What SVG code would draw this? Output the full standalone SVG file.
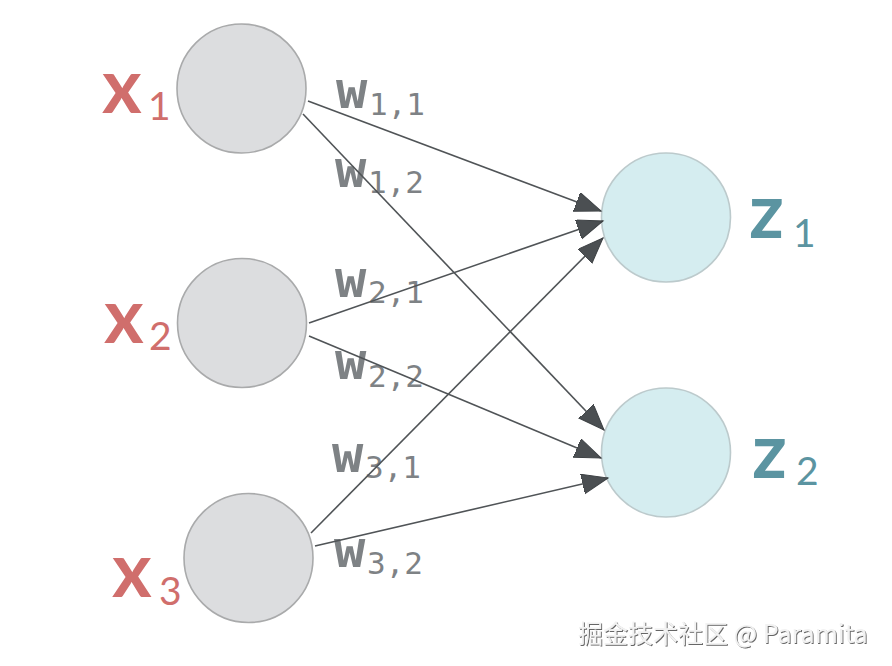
<svg xmlns="http://www.w3.org/2000/svg" width="892" height="666" viewBox="0 0 892 666">
<defs>
<style>
.xn{fill:#dcdddf;stroke:#a9aaab;stroke-width:1.6}
.zn{fill:#d5edf0;stroke:#bccacc;stroke-width:1.6}
.xl{font-family:Lato,"Liberation Sans",sans-serif;fill:#d06e6c}
.zl{font-family:Lato,"Liberation Sans",sans-serif;fill:#5b94a1}
.big{font-size:76px;font-weight:700}
.sub{font-size:39px;font-weight:400}
.wl{font-family:"DejaVu Sans Mono",monospace;fill:#7e8285}
.wb{font-size:52px;font-weight:700}
.ws{font-size:31px;font-weight:400}
.edge{stroke:#505457;stroke-width:1.6;fill:none;marker-end:url(#arr)}
.wm{font-family:"Noto Sans CJK SC","Noto Sans",sans-serif;font-size:25px;fill:#f2f2f2;filter:url(#sh)}
</style>
<marker id="arr" markerUnits="userSpaceOnUse" markerWidth="28" markerHeight="22" refX="26" refY="10" orient="auto">
<path d="M0,0 L26,10 L0,20 Z" fill="#4b4f52" stroke="#3e4245" stroke-width="1"/>
</marker>
<filter id="sh" x="-5%" y="-30%" width="110%" height="160%">
<feDropShadow dx="1" dy="1" stdDeviation="0.6" flood-color="#555" flood-opacity="0.9"/>
</filter>
</defs>
<rect width="892" height="666" fill="#ffffff"/>
<g id="x1">
<circle class="xn" cx="241.5" cy="88.5" r="64.5"/>
<text class="xl"><tspan class="big" x="102" y="113">x</tspan><tspan class="sub" x="148" y="120">1</tspan></text>
</g>
<g id="x2">
<circle class="xn" cx="242" cy="323" r="64.5"/>
<text class="xl"><tspan class="big" x="104" y="343">x</tspan><tspan class="sub" x="149" y="350">2</tspan></text>
</g>
<g id="x3">
<circle class="xn" cx="248.5" cy="558" r="64.5"/>
<text class="xl"><tspan class="big" x="112" y="597">x</tspan><tspan class="sub" x="159" y="605">3</tspan></text>
</g>
<g id="z1">
<circle class="zn" cx="666" cy="217.5" r="64.5"/>
<text class="zl"><tspan class="big" x="749" y="238">z</tspan><tspan class="sub" x="793" y="247">1</tspan></text>
</g>
<g id="z2">
<circle class="zn" cx="666" cy="452.5" r="64.5"/>
<text class="zl"><tspan class="big" x="752" y="478">z</tspan><tspan class="sub" x="796" y="485">2</tspan></text>
</g>
<g id="labels">
<text class="wl"><tspan class="wb" x="336" y="108">w</tspan><tspan class="ws" x="369" y="115">1,1</tspan></text>
<text class="wl"><tspan class="wb" x="335" y="187">w</tspan><tspan class="ws" x="368" y="193">1,2</tspan></text>
<text class="wl"><tspan class="wb" x="335" y="297">w</tspan><tspan class="ws" x="368" y="303">2,1</tspan></text>
<text class="wl"><tspan class="wb" x="335" y="379">w</tspan><tspan class="ws" x="368" y="387">2,2</tspan></text>
<text class="wl"><tspan class="wb" x="332" y="472">w</tspan><tspan class="ws" x="365" y="478">3,1</tspan></text>
<text class="wl"><tspan class="wb" x="334" y="567">w</tspan><tspan class="ws" x="367" y="574">3,2</tspan></text>
</g>
<g id="connectors">
<line class="edge" x1="308" y1="101" x2="601" y2="211"/>
<line class="edge" x1="303" y1="114" x2="604" y2="430"/>
<line class="edge" x1="309" y1="323" x2="603" y2="221"/>
<line class="edge" x1="309" y1="336" x2="601" y2="458"/>
<line class="edge" x1="311" y1="533" x2="603" y2="238"/>
<line class="edge" x1="315" y1="546" x2="608" y2="478"/>
</g>
<text class="wm" x="578" y="643">掘金技术社区 @ Paramita</text>
</svg>
